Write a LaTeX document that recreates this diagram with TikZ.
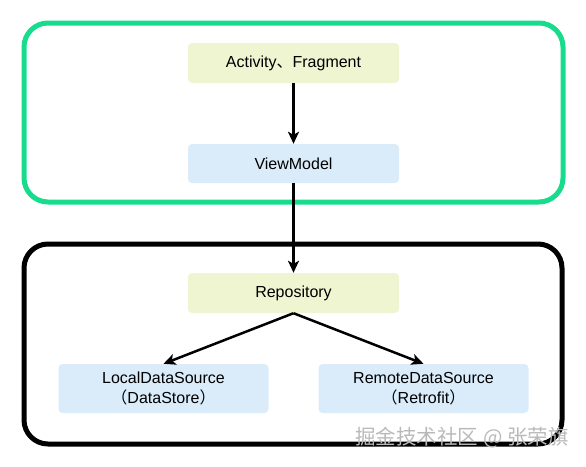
\documentclass[tikz,border=0pt]{standalone}
\usepackage{fontspec}
\setmainfont{Liberation Sans}
\newfontfamily\cjk{Noto Sans CJK SC}
\usetikzlibrary{arrows.meta}
\definecolor{layergreen}{RGB}{22,220,140}
\definecolor{uifill}{RGB}{239,245,208}
\definecolor{datafill}{RGB}{218,236,250}

\begin{document}
\begin{tikzpicture}[x=1pt,y=-1pt,
	box/.style={rounded corners=4pt,inner sep=0pt,align=center,font=\fontsize{16}{20}\selectfont},
	uibox/.style={box,fill=uifill,minimum width=211pt,minimum height=40pt},
	databox/.style={box,fill=datafill,minimum width=210pt,minimum height=40pt},
	link/.style={line width=2.5pt,-{Stealth[length=12pt,width=11pt,inset=3pt]}},
	layer/.style={line width=5pt,rounded corners=24pt}]
	\useasboundingbox (0,0) rectangle (586,466);
	% the two layers - must be drawn before the arrows!
	\draw[layer,draw=layergreen] (24,23) rectangle (563,202);
	\draw[layer,draw=black] (24,244) rectangle (562,444);
	% ui layer
	\node[uibox] (activity) at (293.5,63) {Activity{\cjk 、}Fragment};
	\node[databox,minimum width=211pt,minimum height=39pt] (viewmodel) at (293.5,163.5) {ViewModel};
	% data layer
	\node[uibox] (repository) at (293.5,293) {Repository};
	\node[databox,minimum height=49pt] (local) at (163.5,388.5) {LocalDataSource\\{\cjk （}DataStore{\cjk ）}};
	\node[databox,minimum height=49pt] (remote) at (423.5,388.5) {RemoteDataSource\\{\cjk （}Retrofit{\cjk ）}};
	% arrows
	\draw[link] (activity) -- (viewmodel);
	\draw[link] (viewmodel) -- (repository);
	\draw[link] (repository.south) -- (local.north);
	\draw[link] (repository.south) -- (remote.north);
	% watermark
	\node[font=\cjk\fontsize{20.5}{20.5}\selectfont,text=gray!55] (mark) at (462,438) {掘金技术社区 @ 张荣旗};
\end{tikzpicture}
\end{document}
